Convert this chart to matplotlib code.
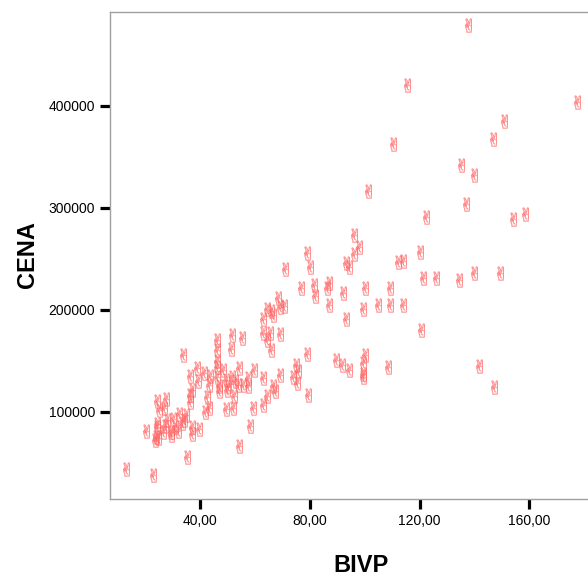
import matplotlib
matplotlib.use("Agg")
import matplotlib.pyplot as plt
from matplotlib.ticker import FuncFormatter

# BIVP (x) and CENA (y)
bivp = [34.0, 39.1, 41.6, 36.4, 43.9, 39.4, 43.3, 37.0, 36.4, 42.7,
        36.4, 24.3, 27.6, 26.9, 25.2, 43.4, 41.9, 32.5, 34.9, 30.3,
        27.9, 34.2, 24.3, 27.3, 30.9, 33.7, 20.6, 24.3, 26.7, 29.7,
        32.1, 37.2, 39.8, 37.0, 29.4, 23.9, 24.9, 23.7, 35.4, 13.1,
        23.0,
        46.3, 51.6, 55.2, 63.1, 65.5, 69.2, 64.3, 66.1, 46.3, 51.2,
        79.1, 46.3, 46.1, 48.3, 54.3, 59.8, 74.9, 75.8, 46.3, 49.5,
        51.6, 52.8, 54.0, 55.8, 57.6, 63.1, 69.2, 74.0, 75.5, 47.1,
        50.3, 57.6, 66.7, 67.3, 47.1, 50.0, 52.4, 64.3, 63.1, 59.4,
        79.5, 49.5, 52.2, 58.2, 54.3,
        79.1, 80.1, 71.0, 93.4, 94.3, 76.7, 81.6, 87.0, 86.4, 82.1,
        92.0, 68.5, 70.7, 69.2, 64.3, 65.8, 66.7, 63.1, 87.0, 93.2,
        120.4, 89.4, 100.1, 99.5, 91.6, 94.4, 108.6, 99.3, 99.3,
        135.0, 139.9, 101.1, 136.9, 122.2, 96.2, 98.0, 96.2, 120.1, 112.2,
        114.0, 121.3, 125.8, 134.4, 139.9, 100.1, 109.2, 99.5, 104.9, 109.2,
        114.0,
        154.1, 158.3, 149.2, 141.7, 147.2,
        137.5, 115.3, 177.4, 150.9, 146.7, 110.2]

cena = [156000, 143000, 138000, 135000, 135000, 130000, 126000, 121000, 116000, 114000,
        110000, 111000, 112000, 104000, 102000, 104000, 100000, 98000, 97000, 93000,
        92000, 92000, 88000, 86000, 85000, 89000, 81000, 85000, 80000, 80000,
        81000, 85000, 83000, 78000, 77000, 75000, 74000, 72000, 56000, 44000,
        38000,
        170000, 175000, 172000, 177000, 177000, 176000, 170000, 161000, 161000, 162000,
        157000, 150000, 144000, 141000, 143000, 141000, 146000, 140000, 134000, 131000,
        134000, 130000, 126000, 126000, 133000, 133000, 136000, 134000, 128000, 125000,
        125000, 125000, 125000, 120000, 120000, 121000, 115000, 115000, 107000, 104000,
        116000, 103000, 104000, 86000, 66000,
        256000, 242000, 240000, 246000, 242000, 221000, 224000, 226000, 221000, 214000,
        216000, 212000, 204000, 203000, 201000, 199000, 195000, 191000, 205000, 191000,
        180000, 151000, 156000, 148000, 146000, 141000, 144000, 134000, 137000,
        342000, 332000, 317000, 304000, 291000, 273000, 262000, 255000, 257000, 247000,
        248000, 231000, 231000, 229000, 236000, 221000, 221000, 201000, 205000, 205000,
        205000,
        289000, 294000, 236000, 145000, 124000,
        479000, 421000, 404000, 385000, 368000, 363000]

x_ticks = [40, 80, 120, 160]
y_ticks = [100000, 200000, 300000, 400000]

plt.rcParams['font.family'] = ['Liberation Sans', 'DejaVu Sans']
plt.rcParams['mathtext.fontset'] = 'dejavusans'

fig = plt.figure(figsize=(5.88, 5.76), dpi=100)
# frame runs past the right edge of the picture, as in the reference
ax = fig.add_axes([0.1874, 0.1345, 0.8533, 0.8455])

ax.scatter(bivp, cena, marker='$\u270C$', s=100, facecolors='#ffb0b0',
           edgecolors='#ff4545', linewidths=0.3, alpha=0.65)

ax.set_xlim(7.4, 190)
ax.set_ylim(14850, 492600)
ax.set_xticks(x_ticks)
ax.set_yticks(y_ticks)
ax.xaxis.set_major_formatter(FuncFormatter(lambda v, p: f"{v:.2f}".replace(".", ",")))
ax.yaxis.set_major_formatter(FuncFormatter(lambda v, p: f"{int(v)}"))

for s in ax.spines.values():
    s.set_color('#a0a0a0')
    s.set_linewidth(1.0)
ax.tick_params(direction='out', length=7, width=2.3, color='black',
               labelsize=10, pad=4)

ax.set_xlabel('BIVP', fontsize=17, fontweight='bold', labelpad=19)
ax.set_ylabel('CENA', fontsize=17, fontweight='bold', labelpad=7)

fig.savefig('out.png', dpi=100)
